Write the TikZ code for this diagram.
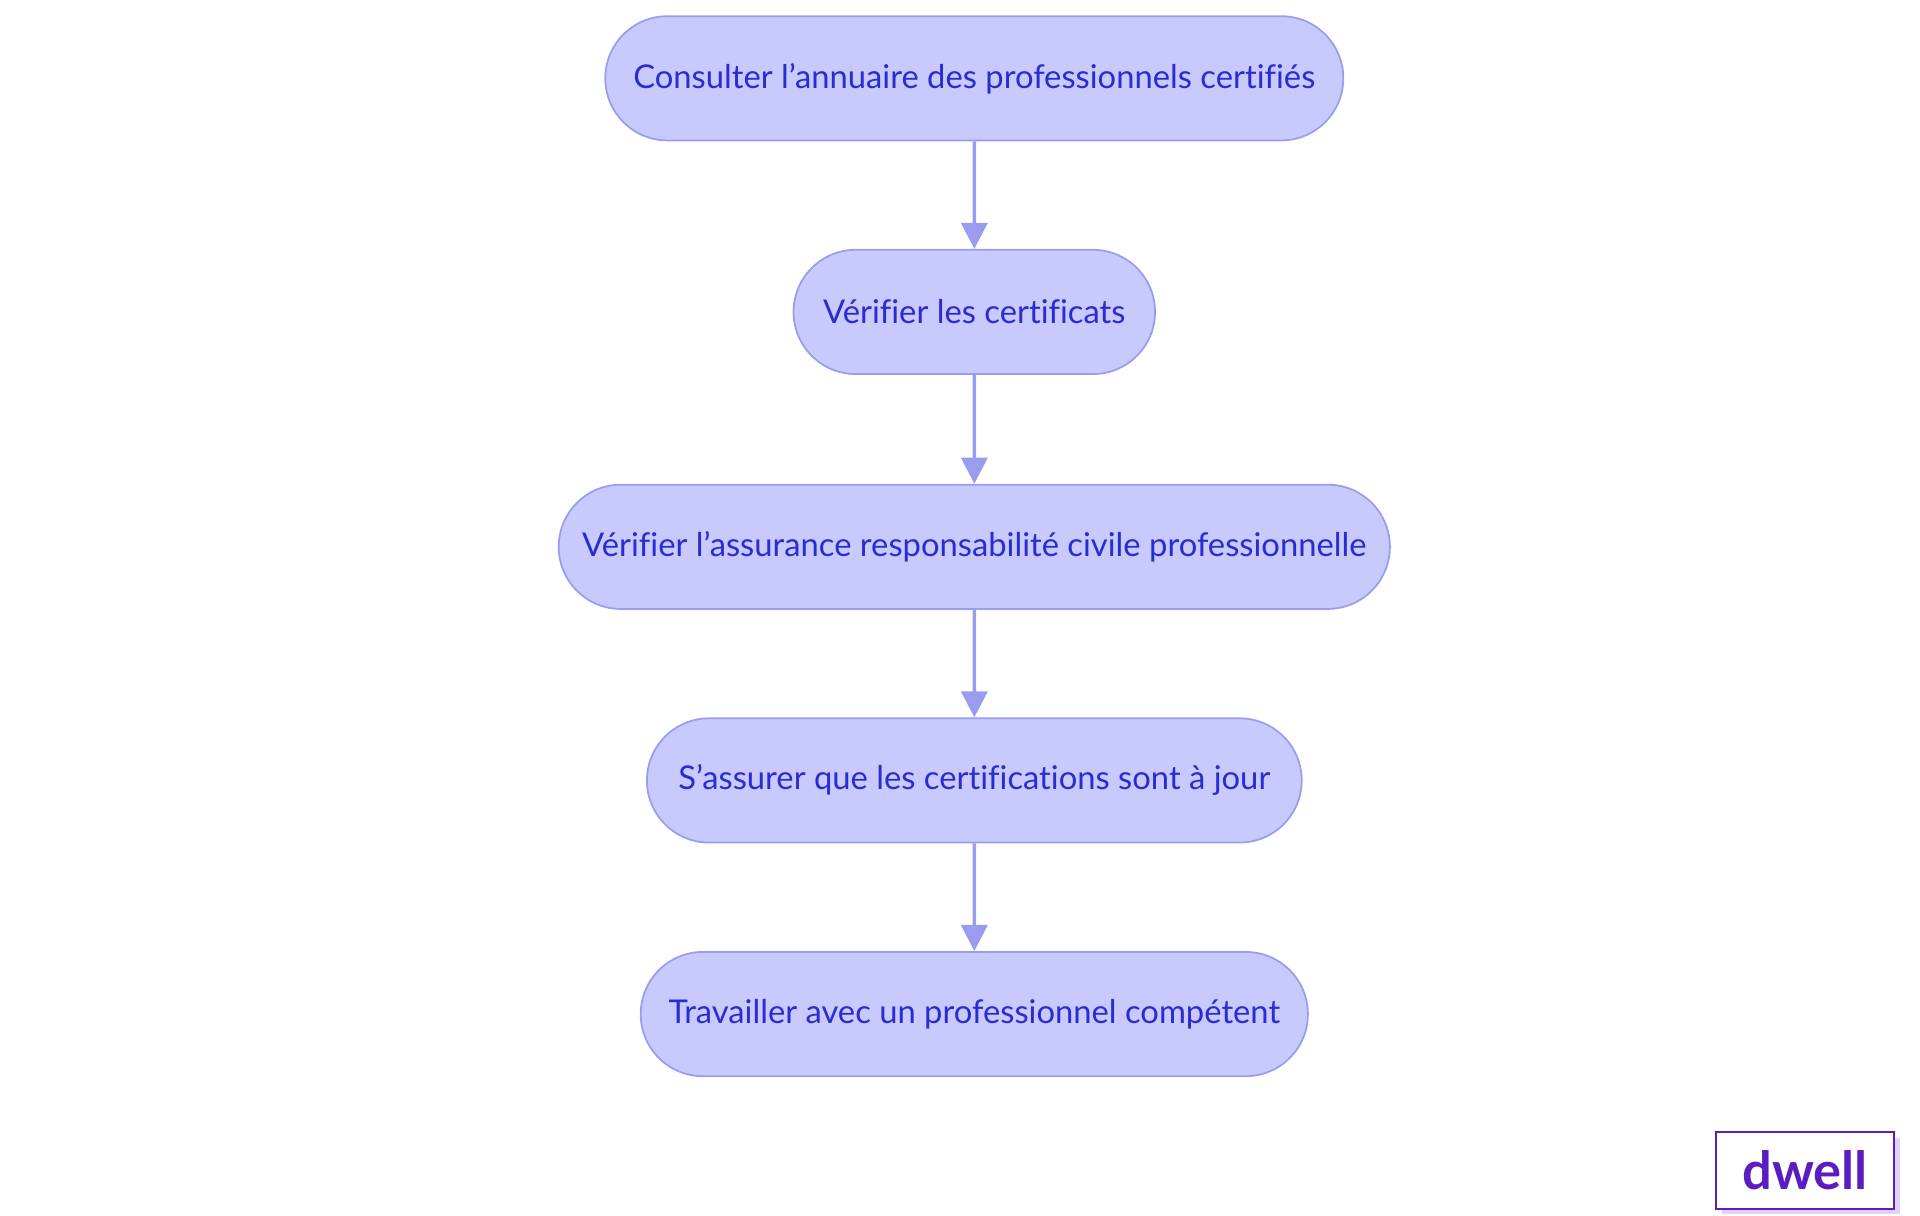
\documentclass[tikz,border=0pt]{standalone}
\usepackage{fontspec}
\setmainfont{Lato}[Ligatures={NoCommon}]
\usetikzlibrary{positioning,arrows.meta,shapes}
\definecolor{stepfill}{HTML}{C8C9FD}
\definecolor{stepline}{HTML}{9A9CF0}
\definecolor{steptext}{HTML}{2B2BD3}
\definecolor{logo}{HTML}{5B1DC0}
\definecolor{logoshadow}{HTML}{E2D2F8}
\newcommand{\apos}{\symbol{39}}
\tikzset{
  stepbox/.style={draw=stepline, fill=stepfill, text=steptext, rounded rectangle,
    minimum height=2cm, font=\fontsize{15}{18}\selectfont, line width=0.8pt, inner xsep=0.2cm},
  flow/.style={-{Triangle[length=0.42cm,width=0.42cm]}, draw=stepline, line width=1.6pt}
}
\begin{document}
\begin{tikzpicture}[x=0.02cm,y=-0.02cm]
        \useasboundingbox (0,0) rectangle (1545,978);

        \node[stepbox, minimum width=12.28cm] (annuaire) at (784, 63) {Consulter l\apos annuaire des professionnels certifiés};
        \node[stepbox, minimum width=6.22cm] (certif) at (784, 251) {Vérifier les certificats};
        \node[stepbox, minimum width=13.78cm] (assur) at (784, 440) {Vérifier l\apos assurance responsabilité civile professionnelle};
        \node[stepbox, minimum width=10.94cm] (ajour) at (784, 628) {S\apos assurer que les certifications sont à jour};
        \node[stepbox, minimum width=11.14cm] (travail) at (784, 816) {Travailler avec un professionnel compétent};

        % Flow arrows
        \draw[flow] (annuaire) -- (certif);
        \draw[flow] (certif) -- (assur);
        \draw[flow] (assur) -- (ajour);
        \draw[flow] (ajour) -- (travail);

        % Logo
        \fill[logoshadow] (1386,916) rectangle (1529,977);
        \node[draw=logo, fill=white, line width=1pt, minimum width=2.86cm, minimum height=1.24cm,
              text=logo, font=\fontsize{24}{28}\selectfont\bfseries] (logo) at (1452.5,942) {dwell};
\end{tikzpicture}
\end{document}
